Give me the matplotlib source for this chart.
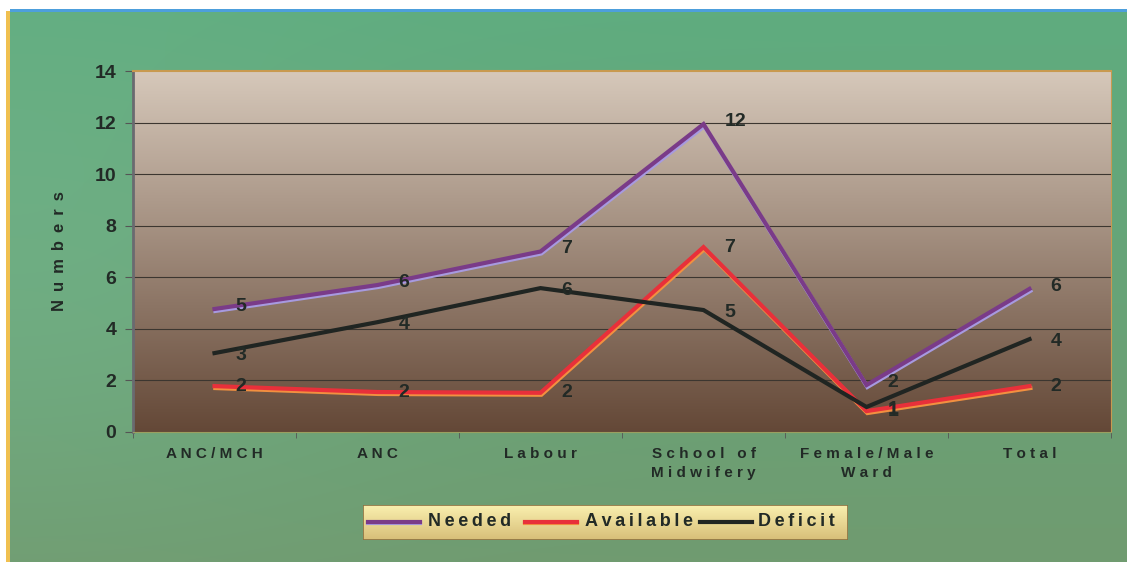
import numpy as np
import matplotlib
matplotlib.use("Agg")
import matplotlib.pyplot as plt
import matplotlib.patheffects as pe
from matplotlib.patches import Rectangle

# Staffing by unit
categories = ["ANC/MCH", "ANC", "Labour", "School of\nMidwifery", "Female/Male\nWard", "Total"]
needed = [4.77, 5.70, 7.00, 11.94, 1.82, 5.55]
available = [1.78, 1.55, 1.52, 7.17, 0.81, 1.78]
deficit = [3.06, 4.26, 5.58, 4.73, 0.97, 3.60]
series_names = ["Needed", "Available", "Deficit"]
y_ticks = [0, 2, 4, 6, 8, 10, 12, 14]

plt.rcParams['font.family'] = ['Liberation Sans', 'DejaVu Sans']
TXT = "#222a26"
W, H = 1127, 562


def spaced(s, sep=" "):
    # wide letter tracking for axis and legend texts
    return "\n".join(sep.join(w) for w in s.split("\n"))


def vgrad(top, bottom, n=256):
    t = np.linspace(0, 1, n)[:, None]
    return np.array(top)[None, :] * (1 - t) + np.array(bottom)[None, :] * t


fig = plt.figure(figsize=(W / 100, H / 100), dpi=100)
fig.patch.set_facecolor("white")

# green backdrop with a paler patch on the left
bg = fig.add_axes([0, 0, 1, 1], zorder=-2)
bg.set_xlim(0, W)
bg.set_ylim(H, 0)
bg.axis("off")
ny, nx = 140, 280
yy, xx = np.mgrid[0:1:ny * 1j, 0:1:nx * 1j]
top_c = np.array([95, 172, 127]) / 255
bot_c = np.array([112, 155, 112]) / 255
img = top_c * (1 - yy[..., None]) + bot_c * yy[..., None]
glow = np.exp(-(((xx - 0.0) / 0.35) ** 2 + ((yy - 0.45) / 0.5) ** 2))[..., None]
img = img * (1 - 0.35 * glow) + np.array([125, 190, 150]) / 255 * 0.35 * glow
bg.imshow(img, extent=[10, W, H, 11], aspect="auto", interpolation="bilinear")
bg.add_patch(Rectangle((10, 9), W - 10, 3, color="#4d9fdc", lw=0))
bg.add_patch(Rectangle((6, 11), 4, H - 11, color="#f0c050", lw=0))

ax = fig.add_axes([133 / W, 1 - 432 / H, 978 / W, 361 / H])
x = np.arange(len(categories))
ax.set_xlim(-0.5, len(categories) - 0.5)
ax.set_ylim(0, 14)

# plot area gradient: pale beige at top to dark brown at bottom
grad = vgrad([214 / 255, 200 / 255, 186 / 255], [100 / 255, 72 / 255, 55 / 255])
ax.imshow(grad[:, None, :], extent=[-0.5, len(categories) - 0.5, 0, 14],
          aspect="auto", zorder=0, interpolation="bilinear")

ax.set_yticks(y_ticks)
ax.set_yticklabels([str(v) for v in y_ticks], fontsize=14, fontweight="bold", color=TXT)
for v in y_ticks[1:-1]:
    ax.axhline(v, color="#3c3630", lw=0.8, zorder=1)

ax.set_xticks(x)
ax.set_xticklabels([spaced(c) for c in categories], fontsize=11, fontweight="bold",
                   color=TXT, linespacing=1.45)
ax.tick_params(axis="x", length=0, pad=11)
ax.set_xticks(np.arange(len(categories) + 1) - 0.5, minor=True)
ax.tick_params(axis="x", which="minor", length=4, color="#555")
ax.tick_params(axis="y", length=6, color="#555", pad=6)

ax.spines["left"].set_color("#6a6a70")
ax.spines["left"].set_linewidth(2)
ax.spines["top"].set_color("#c89a50")
ax.spines["top"].set_linewidth(1.5)
ax.spines["right"].set_color("#c89a50")
ax.spines["bottom"].set_color("#9aa060")

ax.set_ylabel(spaced("Numbers", " \u2009"), fontsize=12, fontweight="bold", color=TXT, labelpad=20)

styles = [
    ("#7a3b88", "#a79ae0"),
    ("#e8303a", "#f29040"),
    ("#202522", None),
]
label_dy = [2, 0, -2]
for vals, (col, edge), dy in zip([needed, available, deficit], styles, label_dy):
    effects = [pe.Normal()]
    if edge:
        effects = [pe.SimpleLineShadow(offset=(0.6, -1.4), shadow_color=edge, alpha=1, rho=1), pe.Normal()]
    ax.plot(x, vals, color=col, lw=3, zorder=3, solid_joinstyle="miter", path_effects=effects)
    for xi, v in zip(x, vals):
        ax.annotate(f"{v:.0f}", (xi, v), xytext=(15, dy), textcoords="offset points",
                    ha="left", va="center", fontsize=14, fontweight="bold", color=TXT, zorder=4)

# legend box
lx0, ly0, lw_, lh_ = 363, 505, 485, 35
lg = fig.add_axes([lx0 / W, 1 - (ly0 + lh_) / H, lw_ / W, lh_ / H], zorder=5)
lg.set_xlim(0, lw_)
lg.set_ylim(lh_, 0)
lg.axis("off")
lgrad = vgrad([250 / 255, 240 / 255, 175 / 255], [215 / 255, 190 / 255, 120 / 255])
lg.imshow(lgrad[:, None, :], extent=[0, lw_, lh_, 0], aspect="auto")
lg.add_patch(Rectangle((0, 0), lw_, lh_, fill=False, ec="#8a7040", lw=1.2))
entries = [(5, 65), (162, 222), (337, 395)]
for name, (col, edge), (hx, tx) in zip(series_names, styles, entries):
    if edge:
        lg.plot([hx, hx + 52], [18, 18], color=edge, lw=3)
    lg.plot([hx, hx + 52], [16.5, 16.5], color=col, lw=3)
    lg.text(tx, 17, spaced(name, "\u2009"), fontsize=13, fontweight="bold", color=TXT,
            ha="left", va="center")

fig.savefig("out.png", dpi=100, facecolor="white")
